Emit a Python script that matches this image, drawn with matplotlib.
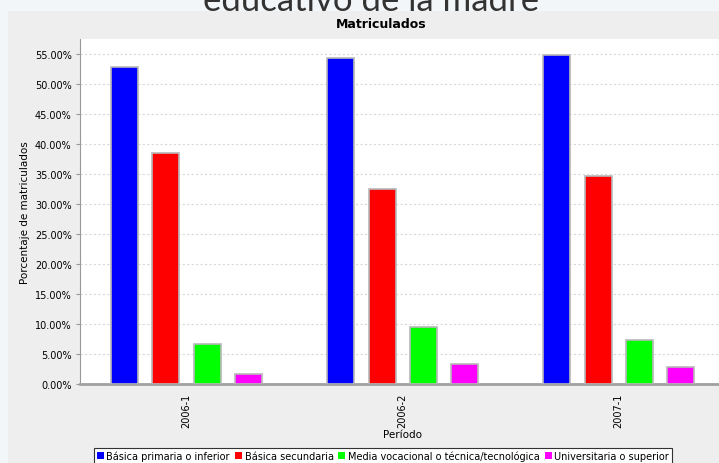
import numpy as np
import matplotlib
matplotlib.use("Agg")
import matplotlib.pyplot as plt
from matplotlib.ticker import FuncFormatter, MultipleLocator

# data (percent of enrolled students)
periodos = ["2006-1", "2006-2", "2007-1"]
niveles = ["Básica primaria o inferior", "Básica secundaria",
           "Media vocacional o técnica/tecnológica", "Universitaria o superior"]
primaria = [52.8, 54.3, 54.8]
secundaria = [38.5, 32.5, 34.7]
media = [6.7, 9.45, 7.3]
universitaria = [1.7, 3.3, 2.9]
colores = ["#0000FF", "#FF0000", "#00FF00", "#FF00FF"]

W, H = 719, 464
fig = plt.figure(figsize=(W / 100, H / 100), dpi=100)
fig.patch.set_facecolor("#F3F6F9")

# gray chart panel behind everything
panel = fig.add_axes([8 / W, 0, 1 - 8 / W, (H - 12) / H], zorder=-1)
panel.set_facecolor("#EEEEEE")
panel.set_xticks([])
panel.set_yticks([])
for s in panel.spines.values():
    s.set_visible(False)

# cut-off page heading above the chart
fig.text(371 / W, (H - 11) / H, "educativo de la madre", ha="center", va="baseline",
         fontsize=25, family="Lato", color="#333333", zorder=-2)

ax = fig.add_axes([80 / W, (H - 385) / H, 1 - 80 / W, (385 - 40) / H])
ax.set_facecolor("white")

x = np.arange(len(periodos))
ancho = 0.125
paso = 0.19
series = [primaria, secundaria, media, universitaria]
for k, (vals, col, lab) in enumerate(zip(series, colores, niveles)):
    ax.bar(x + (k - 1.5) * paso, vals, ancho, color=col, edgecolor="#B8B8B8",
           linewidth=1.2, label=lab, zorder=3)

ax.set_xlim(-0.493, 2.465)
ax.set_ylim(0, 57.5)
ax.yaxis.set_major_locator(MultipleLocator(5))
ax.yaxis.set_major_formatter(FuncFormatter(lambda v, p: f"{v:.2f}%"))
ax.grid(axis="y", color="#D8D8D8", linestyle=(0, (2, 2)), linewidth=0.8, zorder=0)

ax.set_xticks(x)
ax.set_xticklabels(periodos, rotation=90, fontsize=7)
ax.tick_params(axis="x", length=0, pad=6)
ax.tick_params(axis="y", labelsize=7, length=3, color="#999999", pad=3)

for s in ["top", "right"]:
    ax.spines[s].set_visible(False)
ax.spines["left"].set_color("#999999")
ax.spines["bottom"].set_color("#A0A0A0")
ax.spines["bottom"].set_linewidth(2)

ax.set_ylabel("Porcentaje de matriculados", fontsize=7.5)
ax.yaxis.set_label_coords(-0.078, 0.5)
ax.set_xlabel("Período", fontsize=7.5)
ax.xaxis.set_label_coords(0.504, -0.13)

fig.text(381 / W, (H - 24) / H, "Matriculados", ha="center", va="center",
         fontsize=9, fontweight="bold")

leg = fig.legend(loc="center", bbox_to_anchor=(383 / W, (H - 457) / H), ncol=4,
                 fontsize=7, frameon=True, fancybox=False, framealpha=1,
                 edgecolor="#333333", handlelength=0.7, handleheight=0.7,
                 handletextpad=0.3, columnspacing=0.5, borderpad=0.25,
                 borderaxespad=0)
leg.get_frame().set_linewidth(0.8)
for h in leg.legend_handles:
    h.set_edgecolor("none")

fig.savefig("out.png", dpi=100)
